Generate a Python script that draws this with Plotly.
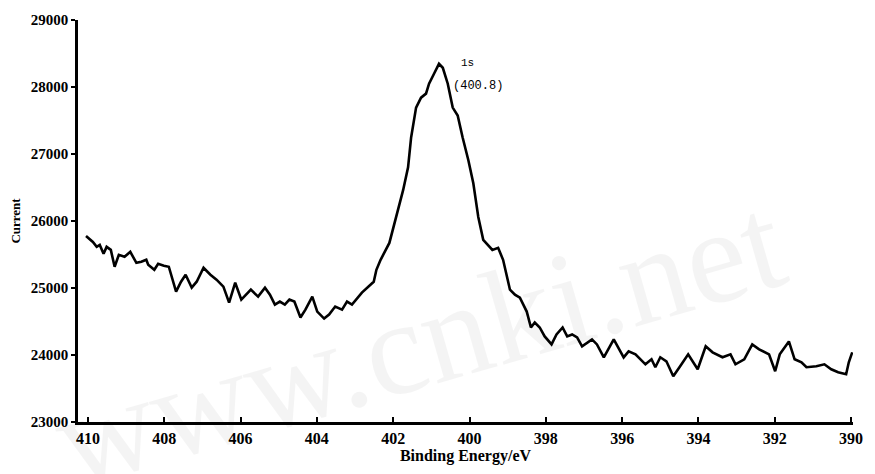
import plotly.graph_objects as go

# Binding energy (eV) and detector current
energy = [410.05, 409.87, 409.77, 409.69, 409.59, 409.51, 409.40, 409.30, 409.19, 409.04,
          408.89, 408.73, 408.60, 408.47, 408.42, 408.26, 408.16, 408.01, 407.88, 407.69,
          407.56, 407.44, 407.28, 407.15, 406.97, 406.79, 406.63, 406.45, 406.30, 406.14,
          405.98, 405.73, 405.54, 405.36, 405.23, 405.10, 404.97, 404.84, 404.72, 404.59,
          404.43, 404.30, 404.12, 403.99, 403.81, 403.68, 403.52, 403.34, 403.21, 403.08,
          402.82, 402.64, 402.51, 402.44, 402.33, 402.10, 401.92, 401.74, 401.61, 401.53,
          401.40, 401.27, 401.14, 401.06, 400.93, 400.80, 400.70, 400.57, 400.44, 400.31,
          400.18, 400.03, 399.90, 399.77, 399.64, 399.40, 399.25, 399.12, 398.94, 398.81,
          398.68, 398.50, 398.39, 398.29, 398.16, 398.03, 397.85, 397.72, 397.56, 397.44,
          397.31, 397.18, 397.05, 396.79, 396.66, 396.48, 396.22, 395.96, 395.83, 395.65,
          395.39, 395.23, 395.13, 395.00, 394.84, 394.66, 394.48, 394.27, 394.02, 393.81,
          393.63, 393.37, 393.16, 393.03, 392.80, 392.59, 392.41, 392.15, 391.99, 391.87,
          391.63, 391.48, 391.30, 391.17, 390.91, 390.70, 390.52, 390.34, 390.13, 390.06,
          389.97]
current = [25777, 25688, 25614, 25643, 25510, 25614, 25569, 25317, 25495, 25465,
           25539, 25376, 25391, 25421, 25346, 25272, 25361, 25331, 25317, 24945,
           25094, 25198, 25005, 25094, 25302, 25198, 25124, 25020, 24782, 25079,
           24827, 24975, 24871, 25005, 24901, 24752, 24797, 24752, 24827, 24797,
           24559, 24678, 24871, 24648, 24544, 24604, 24723, 24678, 24797, 24752,
           24931, 25020, 25094, 25272, 25421, 25673, 26059, 26460, 26802, 27247,
           27693, 27841, 27901, 28049, 28198, 28346, 28287, 28049, 27693, 27574,
           27247, 26906, 26564, 26059, 25718, 25569, 25599, 25421, 24975, 24901,
           24856, 24648, 24411, 24485, 24411, 24277, 24158, 24307, 24411, 24277,
           24307, 24262, 24129, 24233, 24158, 23965, 24233, 23965, 24054, 24010,
           23861, 23936, 23817, 23966, 23906, 23683, 23832, 24010, 23787, 24129,
           24040, 23966, 24010, 23861, 23936, 24158, 24084, 24010, 23757, 24010,
           24203, 23936, 23891, 23817, 23832, 23861, 23787, 23743, 23713, 23891,
           24040]

x_ticks = [410, 408, 406, 404, 402, 400, 398, 396, 394, 392, 390]
y_ticks = [23000, 24000, 25000, 26000, 27000, 28000, 29000]

peak_label = "1s"
peak_value = "(400.8)"
watermark = "www.cnki.net"

serif = "Liberation Serif"

fig = go.Figure()
fig.add_trace(go.Scatter(x=energy, y=current, mode="lines",
                         line=dict(color="black", width=2.6), hoverinfo="skip",
                         showlegend=False))

fig.update_layout(
    width=875, height=474,
    margin=dict(l=78, r=13, t=19, b=51),
    paper_bgcolor="white", plot_bgcolor="white",
    xaxis=dict(range=[410.26, 389.95], tickvals=x_ticks, ticktext=[str(v) for v in x_ticks],
               showgrid=False, zeroline=False, showline=True, linecolor="black", linewidth=2.5,
               ticks="inside", ticklen=5, tickwidth=2, tickcolor="black",
               tickfont=dict(family=serif, size=16, color="black", weight="bold"),
               title=dict(text="Binding Energy/eV", standoff=4,
                          font=dict(family=serif, size=16, color="black", weight="bold"))),
    yaxis=dict(range=[23000, 29000], tickvals=y_ticks, ticktext=[str(v) for v in y_ticks],
               showgrid=False, zeroline=False, showline=True, linecolor="black", linewidth=2.5,
               ticks="outside", ticklen=4, tickwidth=2, tickcolor="black",
               tickfont=dict(family=serif, size=15, color="black", weight="bold"),
               title=dict(text="Current", standoff=8,
                          font=dict(family=serif, size=13, color="black", weight="bold"))),
)

fig.add_annotation(x=400.28, y=28360, xref="x", yref="y", text=peak_label, showarrow=False,
                   xanchor="left", yanchor="middle",
                   font=dict(family="Liberation Mono", size=11, color="black"))
fig.add_annotation(x=400.49, y=28020, xref="x", yref="y", text=peak_value, showarrow=False,
                   xanchor="left", yanchor="middle",
                   font=dict(family="Liberation Mono", size=12, color="black"))

# faint watermark
fig.add_annotation(x=0.44, y=0.2, xref="paper", yref="paper", text=watermark,
                   showarrow=False, textangle=-16, xanchor="center", yanchor="middle",
                   font=dict(family=serif, size=135, color="rgba(0,0,0,0.045)"))

fig.write_html("out.html")
